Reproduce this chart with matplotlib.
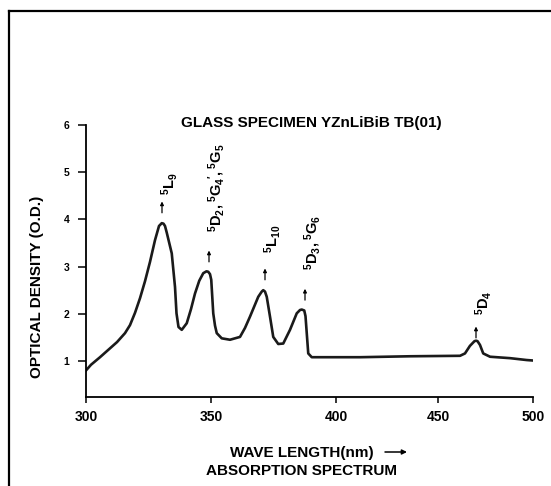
import numpy as np
import matplotlib.pyplot as plt
from matplotlib.lines import Line2D

plt.rcParams['font.family'] = ['Liberation Sans', 'DejaVu Sans']

# absorption spectrum (wavelength in nm, optical density)
wavelength = [300.0, 302.0, 305.6, 309.0, 312.4, 315.6, 317.6, 319.6, 321.6, 323.6,
              325.6, 327.6, 329.2, 330.3, 331.0, 331.6, 332.3, 334.3, 335.6,
              336.2, 337.0, 338.3, 340.3, 342.0, 343.6, 345.3, 346.9, 348.2, 348.9,
              349.6, 350.1, 350.9, 351.6, 352.3, 354.3, 357.6, 361.6, 363.6, 365.6,
              368.9, 370.3, 370.9, 371.6, 372.3, 373.6, 374.9, 376.9, 378.9, 381.6,
              384.3, 385.6, 386.3, 387.3, 387.8, 388.3, 388.9, 390.3, 400.0, 411.8,
              436.3, 461.6, 464.2, 466.8, 469.2, 470.0, 470.8, 472.1, 473.8, 477.4,
              487.9, 496.7, 500.0]
od = [0.80, 0.92, 1.08, 1.24, 1.40, 1.59, 1.76, 2.02, 2.33, 2.69,
      3.10, 3.56, 3.86, 3.92, 3.91, 3.86, 3.72, 3.28, 2.57,
      2.01, 1.72, 1.66, 1.80, 2.10, 2.43, 2.70, 2.86, 2.90, 2.89,
      2.84, 2.72, 2.01, 1.75, 1.59, 1.48, 1.45, 1.51, 1.70, 1.94,
      2.36, 2.47, 2.50, 2.47, 2.36, 1.94, 1.51, 1.36, 1.37, 1.66,
      2.01, 2.08, 2.09, 2.07, 1.95, 1.59, 1.16, 1.08, 1.08, 1.08,
      1.10, 1.11, 1.16, 1.32, 1.42, 1.43, 1.42, 1.34, 1.16, 1.09,
      1.06, 1.02, 1.01]

# assigned transitions
peak_labels = [r"$\mathregular{^5L_9}$",
               r"$\mathregular{^5D_2,^5G_4{}^{\prime},^5G_5}$",
               r"$\mathregular{^5L_{10}}$",
               r"$\mathregular{^5D_3,^5G_6}$",
               r"$\mathregular{^5D_4}$"]
peak_nm = [330.4, 349.2, 371.6, 387.6, 470.0]
arrow_od = [4.14, 3.10, 2.72, 2.29, 1.49]
label_od = [4.52, 3.73, 3.29, 2.93, 1.97]

xticks = [300, 350, 400, 450, 500]
yticks = [1, 2, 3, 4, 5, 6]
# the printed wavelength axis is not evenly spaced
tick_pos = [0, 125, 250, 352, 447]


def fwd(x):
    return np.interp(x, xticks, tick_pos)


def inv(p):
    return np.interp(p, tick_pos, xticks)


fig = plt.figure(figsize=(5.51, 4.86), dpi=100)
ax = fig.add_axes([86 / 551, 1 - 397 / 486, 447 / 551, 272 / 486])

ax.plot(wavelength, od, color='#1a1a1a', lw=1.9, solid_joinstyle='round')

for lab, x, a, t in zip(peak_labels, peak_nm, arrow_od, label_od):
    ax.annotate('', xy=(x, a + 0.24), xytext=(x, a),
                arrowprops=dict(arrowstyle='-|>', color='k', lw=0.9,
                                mutation_scale=5, shrinkA=0, shrinkB=0))
    ax.annotate(lab, xy=(x, t), xytext=(5.5, 0), textcoords='offset points',
                rotation=90, ha='center', va='bottom', fontsize=10.5,
                fontweight='bold')

ax.set_xscale('function', functions=(fwd, inv))
ax.set_xlim(300, 500)
ax.set_ylim(0.237, 6)
ax.set_xticks(xticks)
ax.set_yticks(yticks)
ax.spines['top'].set_visible(False)
ax.spines['right'].set_visible(False)
ax.spines['left'].set_linewidth(1.3)
ax.spines['bottom'].set_linewidth(1.3)
ax.tick_params(axis='y', length=5.8, width=1.1, pad=6, labelsize=7.5)
ax.tick_params(axis='x', length=4.5, width=1.1, pad=5, labelsize=10)
for lbl in ax.get_xticklabels() + ax.get_yticklabels():
    lbl.set_fontweight('bold')

fig.text(311 / 551, 1 - 127 / 486, 'GLASS SPECIMEN YZnLiBiB TB(01)',
         ha='center', va='baseline', fontsize=11, fontweight='bold')
fig.text(37 / 551, 1 - 287 / 486, 'OPTICAL DENSITY (O.D.)', rotation=90,
         ha='center', va='center', fontsize=11, fontweight='bold')
fig.text(230 / 551, 1 - 457 / 486, 'WAVE LENGTH(nm)',
         ha='left', va='baseline', fontsize=11, fontweight='bold')
ax.annotate('', xy=(407 / 551, 1 - 452 / 486), xytext=(385 / 551, 1 - 452 / 486),
            xycoords='figure fraction', textcoords='figure fraction',
            arrowprops=dict(arrowstyle='-|>', color='k', lw=1.1,
                            mutation_scale=7, shrinkA=0, shrinkB=0))
fig.text(302 / 551, 1 - 475 / 486, 'ABSORPTION SPECTRUM',
         ha='center', va='baseline', fontsize=11, fontweight='bold')

# border of the scanned box (left and top edges only)
fig.add_artist(Line2D([9 / 551, 9 / 551], [0, 1 - 11 / 486], color='k', lw=1.6,
                      transform=fig.transFigure))
fig.add_artist(Line2D([9 / 551, 1], [1 - 11 / 486, 1 - 11 / 486], color='k', lw=1.6,
                      transform=fig.transFigure))

plt.savefig('out.png', dpi=100)
